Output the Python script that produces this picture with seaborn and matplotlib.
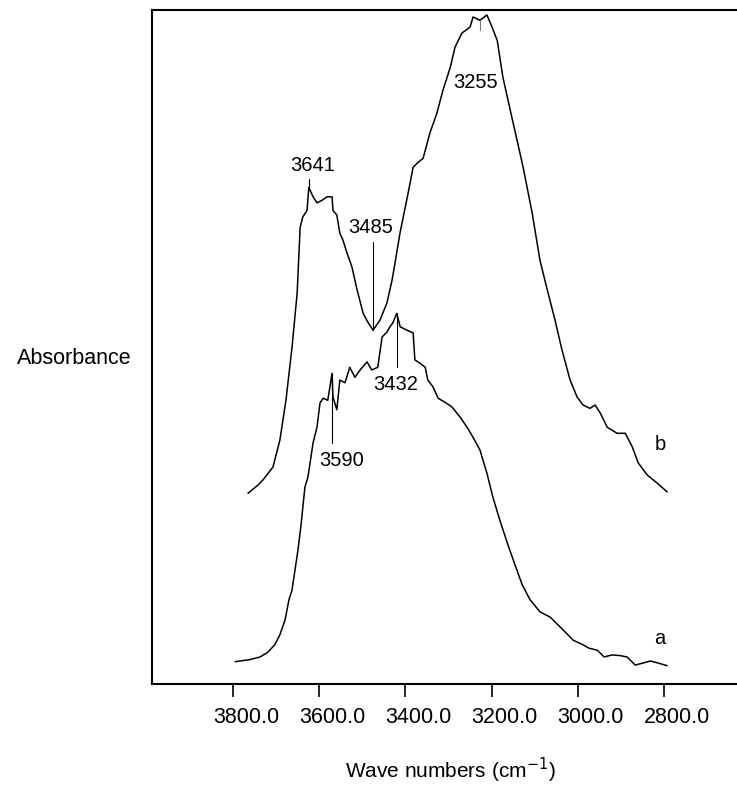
import numpy as np
import pandas as pd
import matplotlib
matplotlib.use("Agg")
import matplotlib.pyplot as plt
import matplotlib.transforms as mtransforms
import seaborn as sns

# Spectrum b (upper trace), wave number vs absorbance (arbitrary units)
wn_b = [3765, 3742, 3730, 3707, 3691, 3677, 3663, 3651, 3644, 3638, 3628, 3624,
        3614, 3605, 3593, 3582, 3570, 3568, 3559, 3552, 3545, 3535, 3524, 3512,
        3498, 3487, 3475, 3459, 3443, 3431, 3424, 3412, 3396, 3382, 3371, 3359,
        3343, 3327, 3313, 3296, 3285, 3269, 3250, 3243, 3227, 3211, 3199, 3187,
        3174, 3157, 3141, 3127, 3106, 3088, 3071, 3053, 3037, 3018, 3002, 2988,
        2972, 2960, 2948, 2932, 2909, 2890, 2874, 2860, 2839, 2816, 2793]
abs_b = [0.283, 0.295, 0.303, 0.322, 0.362, 0.421, 0.499, 0.580, 0.678, 0.693, 0.703, 0.737,
         0.723, 0.714, 0.718, 0.723, 0.723, 0.703, 0.696, 0.669, 0.659, 0.639, 0.619, 0.585,
         0.550, 0.537, 0.525, 0.540, 0.565, 0.599, 0.625, 0.671, 0.721, 0.767, 0.774, 0.780,
         0.818, 0.847, 0.881, 0.915, 0.945, 0.966, 0.975, 0.990, 0.985, 0.993, 0.975, 0.955,
         0.901, 0.852, 0.807, 0.767, 0.699, 0.629, 0.585, 0.540, 0.496, 0.451, 0.426, 0.414,
         0.409, 0.414, 0.402, 0.381, 0.372, 0.372, 0.352, 0.328, 0.310, 0.298, 0.285]

# Spectrum a (lower trace)
wn_a = [3795, 3761, 3737, 3719, 3703, 3691, 3679, 3670, 3663, 3656, 3649, 3642,
        3633, 3626, 3614, 3605, 3598, 3591, 3580, 3570, 3568, 3559, 3552, 3540,
        3529, 3517, 3505, 3489, 3478, 3464, 3454, 3443, 3436, 3429, 3420, 3412,
        3396, 3382, 3378, 3366, 3354, 3348, 3336, 3324, 3308, 3292, 3273, 3257,
        3243, 3227, 3211, 3197, 3181, 3162, 3146, 3129, 3111, 3088, 3064, 3034,
        3011, 2988, 2974, 2955, 2939, 2921, 2902, 2886, 2867, 2849, 2832, 2814, 2793]
abs_a = [0.033, 0.036, 0.040, 0.047, 0.058, 0.073, 0.095, 0.125, 0.139, 0.169, 0.199, 0.236,
         0.292, 0.307, 0.358, 0.381, 0.417, 0.424, 0.421, 0.461, 0.426, 0.407, 0.451, 0.447,
         0.470, 0.455, 0.466, 0.478, 0.466, 0.470, 0.515, 0.522, 0.530, 0.536, 0.550, 0.530,
         0.525, 0.521, 0.481, 0.476, 0.470, 0.451, 0.441, 0.424, 0.418, 0.411, 0.396, 0.381,
         0.366, 0.347, 0.313, 0.277, 0.243, 0.206, 0.177, 0.147, 0.125, 0.107, 0.099, 0.080,
         0.065, 0.058, 0.053, 0.050, 0.040, 0.043, 0.042, 0.040, 0.028, 0.031, 0.034, 0.031, 0.027]

# peak annotations: label, marker position, marker line extent, text anchor
peak_labels = ["3641", "3485", "3432", "3590", "3255"]
peak_wn = [3624, 3475, 3420, 3570, 3227]
mark_lo = [0.737, 0.525, 0.470, 0.358, 0.970]
mark_hi = [0.749, 0.656, 0.550, 0.461, 0.985]
text_wn = [3614, 3480, 3422, 3549, 3238]
text_abs = [0.769, 0.678, 0.444, 0.332, 0.892]

tick_values = [3800, 3600, 3400, 3200, 3000, 2800]
tick_labels = ["3800.0", "3600.0", "3400.0", "3200.0", "3000.0", "2800.0"]

sns.set_style("white")
plt.rcParams["font.family"] = ["Liberation Sans", "DejaVu Sans"]
plt.rcParams["text.color"] = "black"
plt.rcParams["xtick.color"] = "black"
plt.rcParams["axes.labelcolor"] = "black"

fig = plt.figure(figsize=(7.37, 7.87), dpi=100)
ax = fig.add_axes([0.206, 0.131, 0.794, 0.856])

df_a = pd.DataFrame({"wn": wn_a, "A": abs_a})
df_b = pd.DataFrame({"wn": wn_b, "A": abs_b})
sns.lineplot(data=df_a, x="wn", y="A", color="black", lw=1.1, ax=ax, sort=False)
sns.lineplot(data=df_b, x="wn", y="A", color="black", lw=1.1, ax=ax, sort=False)

for lab, w, lo, hi, tw, ta in zip(peak_labels, peak_wn, mark_lo, mark_hi, text_wn, text_abs):
    col = "0.45" if lab == "3255" else "black"
    ax.plot([w, w], [lo, hi], color=col, lw=0.8)
    ax.text(tw, ta, lab, ha="center", va="center", fontsize=14.5, color="black")

ax.text(2809, 0.355, "b", ha="center", va="center", fontsize=14.5, color="black")
ax.text(2809, 0.068, "a", ha="center", va="center", fontsize=14.5, color="black")

ax.set_xlim(3988, 2631)
ax.set_ylim(0, 1)
ax.set_xticks(tick_values)
ax.set_xticklabels(tick_labels, fontsize=15.5, color="black")
ax.set_yticks([])
ax.tick_params(axis="x", direction="out", length=9.5, width=1.2, pad=7, color="black",
               labelcolor="black", bottom=True)
offset = mtransforms.ScaledTranslation(0.13, 0, fig.dpi_scale_trans)
for lbl in ax.get_xticklabels():
    lbl.set_transform(lbl.get_transform() + offset)

for side in ["left", "bottom", "top"]:
    ax.spines[side].set_color("black")
    ax.spines[side].set_linewidth(1.5)
ax.spines["right"].set_visible(False)

ax.set_xlabel("")
ax.set_ylabel("")
fig.text(450 / 737, 1 - 770 / 787, "Wave numbers (cm$^{-1}$)", ha="center", va="center",
         fontsize=15, color="black")
fig.text(74 / 737, 1 - 358 / 787, "Absorbance", ha="center", va="center", fontsize=15.5,
         color="black")

fig.savefig("out.png", dpi=100)
